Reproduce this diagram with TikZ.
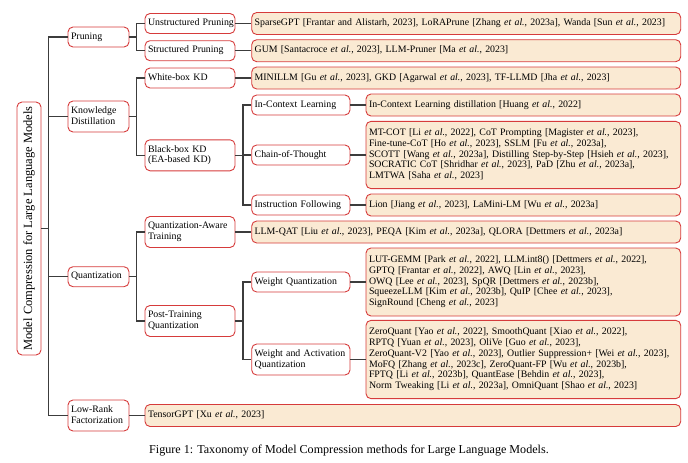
\documentclass[tikz,border=0pt]{standalone}
\usepackage{fontspec}
\setmainfont{Liberation Serif}
\definecolor{bred}{HTML}{D63B3B}
\definecolor{leafbg}{HTML}{FAEAD3}
\definecolor{lnc}{HTML}{3C3C3C}
\newcommand{\myetal}{\textit{et al.}}
\newcommand{\bt}[1]{\begin{tabular}{@{}l@{}}#1\end{tabular}}
\begin{document}
\begin{tikzpicture}[x=1pt,y=-1pt,
  box/.style={draw=bred, line width=0.9pt, rounded corners=5pt, align=left,
    inner xsep=3pt, inner ysep=1pt, anchor=center,
    font=\fontsize{9.85}{10.8}\selectfont},
  lvl/.style={box, fill=white},
  leaf/.style={box, fill=leafbg},
  conn/.style={draw=lnc, line width=1.1pt}]
\useasboundingbox (0,0) rectangle (688,463);

% root
\node[draw=bred, line width=0.9pt, rounded corners=5pt, rotate=90, minimum width=253pt,
  minimum height=24pt, inner sep=0pt, font=\fontsize{12.5}{14}\selectfont]
  (root) at (29,228.5) {Model Compression for Large Language Models};

% level 1
\node[lvl, text width=55pt, minimum height=20pt] (prun) at (98.5,37) {\bt{Pruning}};
\node[lvl, text width=55pt, minimum height=31pt] (kd) at (98.5,116.5) {\bt{Knowledge\\Distillation}};
\node[lvl, text width=55pt, minimum height=20pt] (quant) at (98.5,276.7) {\bt{Quantization}};
\node[lvl, text width=55pt, minimum height=31pt] (lrf) at (98.5,415.5) {\bt{Low-Rank\\Factorization}};

% level 2
\node[lvl, text width=84pt, minimum height=20pt] (up) at (190,23.5) {\bt{Unstructured Pruning}};
\node[lvl, text width=84pt, minimum height=20pt] (sp) at (190,50.7) {\bt{Structured Pruning}};
\node[lvl, text width=84pt, minimum height=20pt] (wb) at (190,78) {\bt{White-box KD}};
\node[lvl, text width=84pt, minimum height=31pt] (bb) at (190,155.3) {\bt{Black-box KD\\(EA-based KD)}};
\node[lvl, text width=84pt, minimum height=31pt] (qat) at (190,232) {\bt{Quantization-Aware\\Training}};
\node[lvl, text width=84pt, minimum height=31pt] (ptq) at (190,321) {\bt{Post-Training\\Quantization}};

% level 2 leaves
\node[leaf, text width=423pt, minimum height=22pt] (upl) at (466.2,23.5)
  {\bt{SparseGPT [Frantar and Alistarh, 2023], LoRAPrune [Zhang \myetal, 2023a], Wanda [Sun \myetal, 2023]}};
\node[leaf, text width=423pt, minimum height=22pt] (spl) at (466.2,50.7)
  {\bt{GUM [Santacroce \myetal, 2023], LLM-Pruner [Ma \myetal, 2023]}};
\node[leaf, text width=423pt, minimum height=22pt] (wbl) at (466.2,78)
  {\bt{MINILLM [Gu \myetal, 2023], GKD [Agarwal \myetal, 2023], TF-LLMD [Jha \myetal, 2023]}};
\node[leaf, text width=423pt, minimum height=22pt] (qatl) at (466.2,232)
  {\bt{LLM-QAT [Liu \myetal, 2023], PEQA [Kim \myetal, 2023a], QLORA [Dettmers \myetal, 2023a]}};

% level 3
\node[lvl, text width=92.3pt, minimum height=20pt] (icl) at (300.85,105) {\bt{In-Context Learning}};
\node[lvl, text width=92.3pt, minimum height=20pt] (cot) at (300.85,155) {\bt{Chain-of-Thought}};
\node[lvl, text width=92.3pt, minimum height=20pt] (inf) at (300.85,205) {\bt{Instruction Following}};
\node[lvl, text width=92.3pt, minimum height=20pt] (wq) at (300.85,282) {\bt{Weight Quantization}};
\node[lvl, text width=92.3pt, minimum height=31pt] (waq) at (300.85,359.5) {\bt{Weight and Activation\\Quantization}};

% level 3 leaves
\node[leaf, text width=308.7pt, minimum height=22pt] (icll) at (523.35,105)
  {\bt{In-Context Learning distillation [Huang \myetal, 2022]}};
\node[leaf, text width=308.7pt, minimum height=67.3pt] (cotl) at (523.35,155)
  {\bt{MT-COT [Li \myetal, 2022], CoT Prompting [Magister \myetal, 2023],\\
   Fine-tune-CoT [Ho \myetal, 2023], SSLM [Fu \myetal, 2023a],\\
   SCOTT [Wang \myetal, 2023a], Distilling Step-by-Step [Hsieh \myetal, 2023],\\
   SOCRATIC CoT [Shridhar \myetal, 2023], PaD [Zhu \myetal, 2023a],\\
   LMTWA [Saha \myetal, 2023]}};
\node[leaf, text width=308.7pt, minimum height=22pt] (infl) at (523.35,205)
  {\bt{Lion [Jiang \myetal, 2023], LaMini-LM [Wu \myetal, 2023a]}};
\node[leaf, text width=308.7pt, minimum height=68pt] (wql) at (523.35,282)
  {\bt{LUT-GEMM [Park \myetal, 2022], LLM.int8() [Dettmers \myetal, 2022],\\
   GPTQ [Frantar \myetal, 2022], AWQ [Lin \myetal, 2023],\\
   OWQ [Lee \myetal, 2023], SpQR [Dettmers \myetal, 2023b],\\
   SqueezeLLM [Kim \myetal, 2023b], QuIP [Chee \myetal, 2023],\\
   SignRound [Cheng \myetal, 2023]}};
\node[leaf, text width=308.7pt, minimum height=78.3pt] (waql) at (523.35,359.5)
  {\bt{ZeroQuant [Yao \myetal, 2022], SmoothQuant [Xiao \myetal, 2022],\\
   RPTQ [Yuan \myetal, 2023], OliVe [Guo \myetal, 2023],\\
   ZeroQuant-V2 [Yao \myetal, 2023], Outlier Suppression+ [Wei \myetal, 2023],\\
   MoFQ [Zhang \myetal, 2023c], ZeroQuant-FP [Wu \myetal, 2023b],\\
   FPTQ [Li \myetal, 2023b], QuantEase [Behdin \myetal, 2023],\\
   Norm Tweaking [Li \myetal, 2023a], OmniQuant [Shao \myetal, 2023]}};

% low-rank leaf
\node[leaf, text width=529.7pt, minimum height=22pt] (tgl) at (412.85,415.5)
  {\bt{TensorGPT [Xu \myetal, 2023]}};

% caption
\node[font=\fontsize{12.1}{14}\selectfont, inner sep=0pt] (cap) at (349,450.5)
  {Figure 1: Taxonomy of Model Compression methods for Large Language Models.};

% connectors
\foreach \c in {prun,kd,quant,lrf}
  \draw[conn] (root.south) -- ++(7,0) |- (\c.west);
\foreach \c in {up,sp}
  \draw[conn] (prun.east) -- ++(7,0) |- (\c.west);
\foreach \c in {wb,bb}
  \draw[conn] (kd.east) -- ++(7,0) |- (\c.west);
\foreach \c in {qat,ptq}
  \draw[conn] (quant.east) -- ++(7,0) |- (\c.west);
\foreach \c in {icl,cot,inf}
  \draw[conn] (bb.east) -- ++(7.5,0) |- (\c.west);
\foreach \c in {wq,waq}
  \draw[conn] (ptq.east) -- ++(7.5,0) |- (\c.west);
\draw[conn] (up.east) -- (upl.west);
\draw[conn] (sp.east) -- (spl.west);
\draw[conn] (wb.east) -- (wbl.west);
\draw[conn] (qat.east) -- (qatl.west);
\draw[conn] (icl.east) -- (icll.west);
\draw[conn] (cot.east) -- (cotl.west);
\draw[conn] (inf.east) -- (infl.west);
\draw[conn] (wq.east) -- (wql.west);
\draw[conn] (waq.east) -- (waql.west);
\draw[conn] (lrf.east) -- (tgl.west);
\end{tikzpicture}
\end{document}
